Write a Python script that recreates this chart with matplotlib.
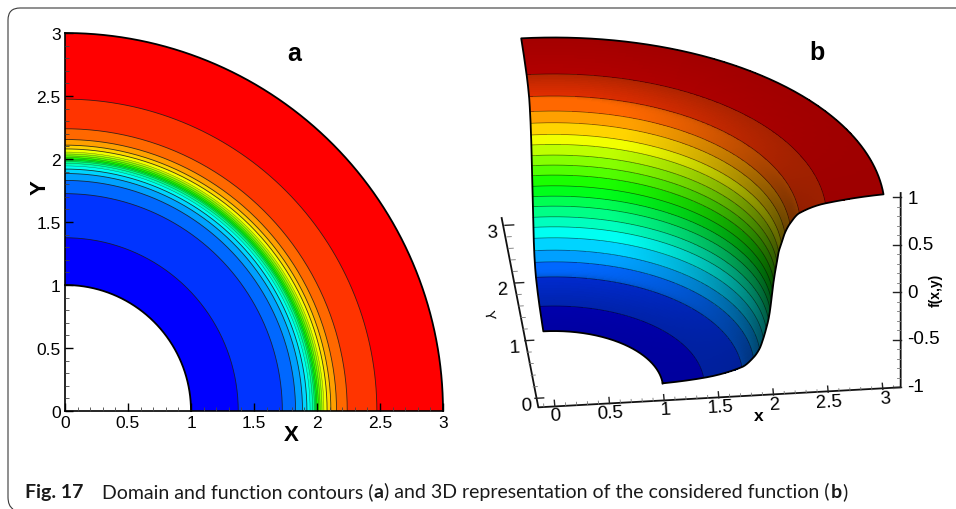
import numpy as np
import matplotlib
matplotlib.use('Agg')
import matplotlib.pyplot as plt
from matplotlib.colors import LinearSegmentedColormap
from matplotlib.patches import Wedge, PathPatch
from matplotlib.path import Path
from matplotlib.ticker import MultipleLocator

W, H = 956, 510

# contour radii
level_r = [1.375, 1.725, 1.83, 1.885, 1.92, 1.945, 1.965, 1.98, 1.99, 2.0,
           2.012, 2.025, 2.04, 2.055, 2.08, 2.11, 2.155, 2.24, 2.475]
# height of each contour
level_z = [-0.962, -0.863, -0.762, -0.666, -0.55, -0.443, -0.343, -0.233, -0.127, -0.017,
           0.096, 0.2, 0.303, 0.413, 0.509, 0.621, 0.723, 0.837, 0.932]
r_inner, r_outer = 1.0, 3.0
z_inner, z_outer = -1.0, 1.0

ticks_a = [0, 0.5, 1, 1.5, 2, 2.5, 3]
tick_labels_a = ['0', '0.5', '1', '1.5', '2', '2.5', '3']

x_labels_b = ['0', '0.5', '1', '1.5', '2', '2.5', '3']
y_labels_b = ['0', '1', '2', '3']
z_labels_b = ['-1', '-0.5', '0', '0.5', '1']

plt.rcParams['font.family'] = ['Liberation Sans', 'DejaVu Sans']

rainbow = LinearSegmentedColormap.from_list('rainbow5', ['#0000ff', '#00ffff', '#00ff00', '#ffff00', '#ff0000'])
radii = np.array([r_inner] + level_r + [r_outer])
heights = np.array([z_inner] + level_z + [z_outer])
n_bands = len(radii) - 1
band_colors = [rainbow(k / (n_bands - 1)) for k in range(n_bands)]


def px_rect(x0, y0, x1, y1):
    return [x0 / W, 1 - y1 / H, (x1 - x0) / W, (y1 - y0) / H]


def label(x, y, s, size, **kw):
    fig.text(x / W, 1 - y / H, s, fontsize=size, ha=kw.pop('ha', 'center'), va=kw.pop('va', 'center'), **kw)


fig = plt.figure(figsize=(W / 100, H / 100), dpi=100)

# frame around the figure and caption
frame = fig.add_axes([0, 0, 1, 1])
frame.set_xlim(0, W)
frame.set_ylim(H, 0)
frame.axis('off')
frame_path = Path([(W, 9), (20, 9), (8, 9), (8, 21), (8, 498), (8, 507), (13, 510)],
                  [Path.MOVETO, Path.LINETO, Path.CURVE3, Path.CURVE3, Path.LINETO, Path.CURVE3, Path.CURVE3])
frame.add_patch(PathPatch(frame_path, fc='none', ec='#3a3a3a', lw=0.8))

# panel a
ax = fig.add_axes(px_rect(65, 34, 443, 412))
for k in range(n_bands - 1, -1, -1):
    ax.add_patch(Wedge((0, 0), radii[k + 1], 0, 90, fc=band_colors[k], ec='none'))
ax.add_patch(Wedge((0, 0), r_inner, 0, 90, fc='white', ec='none'))
th = np.linspace(0, np.pi / 2, 200)
for r in level_r:
    # the tightly packed contours are finer, so the green still shows
    dense = 1.93 < r < 2.07
    ax.plot(r * np.cos(th), r * np.sin(th), color='#1a1a1a', lw=0.3 if dense else 0.6, alpha=0.6 if dense else 0.85)
for r in (r_inner, r_outer):
    ax.plot(r * np.cos(th), r * np.sin(th), color='black', lw=1.3, clip_on=False)
ax.plot([r_outer, r_outer], [0, 0.02], color='black', lw=1.2)
ax.set_xlim(0, 3)
ax.set_ylim(0, 3)
ax.set_axisbelow(False)
ax.spines['top'].set_visible(False)
ax.spines['right'].set_visible(False)
ax.spines['left'].set_linewidth(1.2)
ax.spines['bottom'].set_linewidth(1.2)
ax.set_xticks(ticks_a, tick_labels_a)
ax.set_yticks(ticks_a, tick_labels_a)
ax.xaxis.set_minor_locator(MultipleLocator(0.1))
ax.yaxis.set_minor_locator(MultipleLocator(0.1))
ax.tick_params(which='major', direction='in', length=6, width=1.0, labelsize=12.5, pad=3)
ax.tick_params(which='minor', direction='in', length=3, width=0.6, color='#444444')
ax.patch.set_alpha(0)
label(291, 436, 'X', 16, fontweight='bold')
label(40, 188, 'Y', 16, fontweight='bold', rotation=90)
label(294, 54, 'a', 18, fontweight='bold')


# panel b, drawn in its own projected coordinates
def project(x, y, z):
    sx = 220 + 328 * x - 30 * y
    sy = 1110 - 17 * x - 173 * y - 266.5 * (z + 1)
    return 660 + (sx - 660) * (1 + 0.006 * (z + 1)), sy


# knot slopes for a smooth height profile through the contours
gaps = np.diff(radii)
secants = np.diff(heights) / gaps
knot_slopes = np.zeros(len(radii))
knot_slopes[1:-1] = 2 * secants[:-1] * secants[1:] / (secants[:-1] + secants[1:])
knot_slopes[0] = secants[0] * 0.6
knot_slopes[-1] = secants[-1] * 0.5

r_cells, z_cells, band_of = [radii[0]], [heights[0]], []
for k in range(n_bands):
    t = np.linspace(0, 1, 13)[1:]
    h00 = 2 * t**3 - 3 * t**2 + 1
    h10 = t**3 - 2 * t**2 + t
    h01 = -2 * t**3 + 3 * t**2
    h11 = t**3 - t**2
    r_cells.extend(radii[k] + t * gaps[k])
    z_cells.extend(h00 * heights[k] + h10 * gaps[k] * knot_slopes[k] + h01 * heights[k + 1] + h11 * gaps[k] * knot_slopes[k + 1])
    band_of.extend([k] * len(t))
r_cells, z_cells = np.array(r_cells), np.array(z_cells)

theta = np.linspace(0, np.pi / 2, 181)
R, T = np.meshgrid(r_cells, theta, indexing='ij')
Z = np.repeat(z_cells[:, None], len(theta), axis=1)
SX, SY = project(R * np.cos(T), R * np.sin(T), Z)

slope = np.diff(z_cells) / np.diff(r_cells)
theta_mid = 0.5 * (theta[1:] + theta[:-1])
S, TM = np.meshgrid(slope, theta_mid, indexing='ij')
nz = 1 / np.sqrt(1 + S**2)
ny = S * np.sin(TM) * nz
shade = np.clip(0.3 + 0.32 * nz + 0.72 * np.abs(ny)**1.3, 0, 1)
rgb = np.array([band_colors[k][:3] for k in band_of])[:, None, :] * shade[:, :, None]

bx = fig.add_axes(px_rect(480, 20, 956, 440))
bx.set_xlim(0, 1428)
bx.set_ylim(1260, 0)
bx.axis('off')
bx.pcolormesh(SX, SY, rgb, shading='flat')
for r, z in zip(level_r, level_z):
    lx, ly = project(r * np.cos(theta), r * np.sin(theta), z)
    bx.plot(lx, ly, color='black', lw=0.5, alpha=0.55)
outline_x = np.concatenate([SX[:, 0], SX[-1, :], SX[::-1, -1], SX[0, ::-1]])
outline_y = np.concatenate([SY[:, 0], SY[-1, :], SY[::-1, -1], SY[0, ::-1]])
bx.plot(outline_x, outline_y, color='black', lw=1.3)

# axes of the 3D box
bx.plot([65, 175, 1262, 1262], [597, 1165, 1105, 522], color='#111111', lw=1.3)


def x_pos(v):
    return np.array([224.5 + 328 * v, 1162 - 17 * v])


def y_pos(v):
    return np.array([165 - 30 * v, 1138 - 173 * v])


def z_pos(v):
    return np.array([1262, 820 - 285 * v])


for v in np.arange(-0.1, 3.15, 0.1):
    p = x_pos(v)
    major = abs(v * 2 - round(v * 2)) < 1e-6
    n = 18 if major else 9
    bx.plot([p[0], p[0] - 0.09 * n], [p[1], p[1] - n], color='#222222' if major else '#777777', lw=1.0 if major else 0.6)
for v in np.arange(0, 3.05, 0.2):
    p = y_pos(v)
    major = abs(v - round(v)) < 1e-6
    n = 26 if major else 13
    bx.plot([p[0], p[0] + n], [p[1], p[1] - 0.05 * n], color='#222222' if major else '#777777', lw=1.0 if major else 0.6)
for v in np.arange(-1, 1.05, 0.1):
    p = z_pos(v)
    major = abs(v * 2 - round(v * 2)) < 1e-6
    n = 22 if major else 11
    bx.plot([p[0], p[0] - n], [p[1], p[1]], color='#222222' if major else '#777777', lw=1.0 if major else 0.6)


def zoom_label(x, y, s, size, **kw):
    label(480 + x / 3, 20 + y / 3, s, size, **kw)


x_label_pos = [(227, 1190), (390, 1180), (556, 1172), (722, 1163), (885, 1155), (1048, 1147), (1215, 1138)]
y_label_pos = [(138, 1158), (104, 985), (70, 812), (38, 640)]
z_label_y = [1102, 960, 820, 678, 538]
for (lx, ly), s in zip(x_label_pos, x_labels_b):
    zoom_label(lx, ly, s, 13.5, rotation=3)
for (lx, ly), s in zip(y_label_pos, y_labels_b):
    zoom_label(lx, ly, s, 13.5, rotation=3)
for ly, s in zip(z_label_y, z_labels_b):
    zoom_label(1282, ly, s, 13.5, ha='left')
zoom_label(835, 1190, 'x', 12.5, fontweight='bold')
zoom_label(25, 885, 'Y', 10, rotation=-80)
zoom_label(1368, 812, 'f(x,y)', 10, fontweight='bold', rotation=90)
label(817, 53, 'b', 18, fontweight='bold')

# caption, regular and bold pieces placed one after the other
caption = [('Fig. 17', 'bold', 25), ('Domain and function contours (', 'normal', 102), ('a', 'bold', 0),
           (') and 3D representation of the considered function (', 'normal', 0), ('b', 'bold', 0), (')', 'normal', 0)]
renderer = fig.canvas.get_renderer()
pen = 0
for s, weight, start in caption:
    if start:
        pen = start
    t = fig.text(pen / W, 1 - 498 / H, s, fontsize=14, fontweight=weight, family=['Lato', 'DejaVu Sans'], color='#1a1a1a', va='baseline')
    pen = t.get_window_extent(renderer).x1 + 0.5

fig.savefig('out.png', dpi=100)
